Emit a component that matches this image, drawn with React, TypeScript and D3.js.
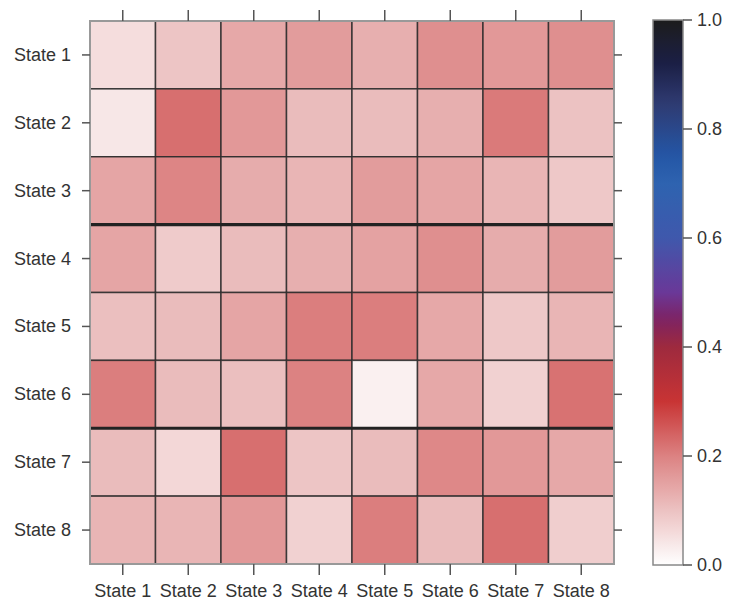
import React from "react";
import * as d3 from "d3";

const states = ["State 1", "State 2", "State 3", "State 4", "State 5", "State 6", "State 7", "State 8"];

const row1 = [0.055, 0.095, 0.14, 0.16, 0.13, 0.18, 0.165, 0.18];
const row2 = [0.04, 0.225, 0.165, 0.11, 0.11, 0.13, 0.21, 0.10];
const row3 = [0.145, 0.195, 0.135, 0.12, 0.16, 0.145, 0.12, 0.09];
const row4 = [0.145, 0.085, 0.11, 0.13, 0.15, 0.18, 0.135, 0.16];
const row5 = [0.105, 0.11, 0.145, 0.205, 0.205, 0.14, 0.09, 0.12];
const row6 = [0.205, 0.11, 0.105, 0.2, 0.025, 0.14, 0.075, 0.22];
const row7 = [0.11, 0.065, 0.225, 0.095, 0.11, 0.19, 0.165, 0.14];
const row8 = [0.12, 0.12, 0.165, 0.075, 0.205, 0.11, 0.225, 0.08];
const matrix = [row1, row2, row3, row4, row5, row6, row7, row8];

const colorStops = [0, 0.1, 0.2, 0.3, 0.4, 0.45, 0.5, 0.6, 0.7, 0.75, 0.85, 0.92, 1.0];
const colorValues = ["#ffffff", "#ecc2c2", "#dc8282", "#c83434", "#9e2a3e", "#7e2262", "#6a3898", "#3f58ac", "#2e63b0", "#2456a6", "#2f3a70", "#1b1f45", "#1c1c1c"];
const legendTicks = [0, 0.2, 0.4, 0.6, 0.8, 1.0];

export default function App() {
  const W = 730, H = 600;
  const left = 90, right = 614, top = 21, bottom = 564;
  const x = d3.scaleBand<string>().domain(states).range([left, right]);
  const y = d3.scaleBand<string>().domain(states).range([top, bottom]);
  const color = d3.scaleLinear<string>().domain(colorStops).range(colorValues).interpolate(d3.interpolateRgb);
  const cb = d3.scaleLinear().domain([0, 1]).range([565, 20]);
  const cbX0 = 653, cbX1 = 683;
  const font = "'Liberation Sans', Arial, sans-serif";
  const gradStops = d3.range(0, 1.0001, 0.02);

  const cells: any[] = [];
  matrix.forEach((row, i) => row.forEach((v, j) => cells.push({ r: states[i], c: states[j], v })));

  const bw = x.bandwidth();
  const bh = y.bandwidth();

  return (
    <svg width={W} height={H} style={{ position: "absolute", left: 0, top: 0, background: "#fff" }}>
      <defs>
        <linearGradient id="cbg" x1="0" y1="1" x2="0" y2="0">
          {gradStops.map((t) => (
            <stop key={t} offset={t} stopColor={color(t)} />
          ))}
        </linearGradient>
      </defs>
      {cells.map((d, k) => (
        <rect key={k} x={x(d.c)} y={y(d.r)} width={bw} height={bh} fill={color(d.v)} stroke="#2a2a2a" strokeOpacity={0.85} strokeWidth={1.5} />
      ))}
      {[3, 6].map((i) => (
        <line key={i} x1={left} x2={right} y1={y(states[i])} y2={y(states[i])} stroke="#222" strokeWidth={3.2} />
      ))}
      <rect x={left} y={top} width={right - left} height={bottom - top} fill="none" stroke="#999" strokeWidth={2} />
      {states.map((s) => (
        <g key={"t" + s}>
          <line x1={x(s)! + bw / 2} x2={x(s)! + bw / 2} y1={top} y2={top - 11} stroke="#555" strokeWidth={1.5} />
          <line x1={x(s)! + bw / 2} x2={x(s)! + bw / 2} y1={bottom} y2={bottom + 11} stroke="#555" strokeWidth={1.5} />
          <line x1={left} x2={left - 8} y1={y(s)! + bh / 2} y2={y(s)! + bh / 2} stroke="#555" strokeWidth={1.5} />
          <line x1={right} x2={right + 8} y1={y(s)! + bh / 2} y2={y(s)! + bh / 2} stroke="#555" strokeWidth={1.5} />
          <text x={x(s)! + bw / 2} y={597} textAnchor="middle" fontFamily={font} fontSize={18} fill="#333">{s}</text>
          <text x={71} y={y(s)! + bh / 2} textAnchor="end" dominantBaseline="central" fontFamily={font} fontSize={18} fill="#333">{s}</text>
        </g>
      ))}
      <rect x={cbX0} y={cb(1)} width={cbX1 - cbX0} height={cb(0) - cb(1)} fill="url(#cbg)" stroke="#888" strokeWidth={1.5} />
      {legendTicks.map((t) => (
        <g key={"l" + t}>
          <line x1={cbX1} x2={cbX1 + 9} y1={cb(t)} y2={cb(t)} stroke="#555" strokeWidth={1.5} />
          <text x={697} y={cb(t)} dominantBaseline="central" fontFamily={font} fontSize={18} fill="#333">{t.toFixed(1)}</text>
        </g>
      ))}
    </svg>
  );
}
